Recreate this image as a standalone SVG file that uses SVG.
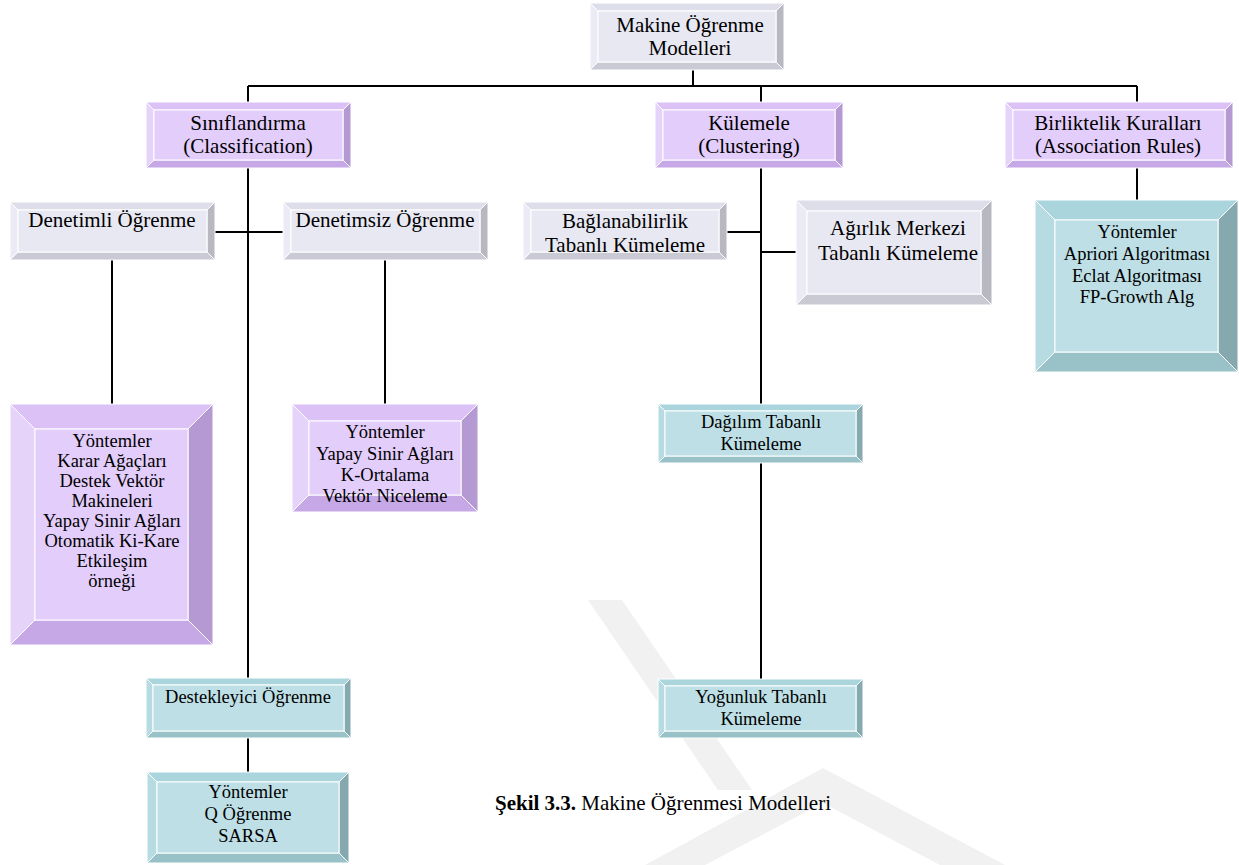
<svg xmlns="http://www.w3.org/2000/svg" width="1239" height="865" viewBox="0 0 1239 865">
  <style>
    text { font-family: "Liberation Serif", "Times New Roman", serif; fill: #000; text-anchor: middle; }
    .big { font-size: 21px; }
    .sm { font-size: 18.5px; }
    .cap { font-size: 21px; text-anchor: start; }
    .node polygon, .node rect { stroke: #ffffff; stroke-width: 1; }
    /* purple bevel */
    .pF { fill: #e3cdfb; } .pT { fill: #dbc1f6; } .pL { fill: #e6d3fa; } .pR { fill: #b499d2; } .pB { fill: #c6a8e6; }
    /* gray bevel */
    .gF { fill: #e8e8f3; } .gT { fill: #dedeea; } .gL { fill: #ebebf5; } .gR { fill: #b8b8c3; } .gB { fill: #cacad5; }
    /* teal bevel */
    .tF { fill: #bddfe5; } .tT { fill: #aad5dd; } .tL { fill: #b6dce2; } .tR { fill: #86a9b0; } .tB { fill: #98c1c8; }
    .wire { stroke: #000; stroke-width: 2; fill: none; }
    .mark { fill: #f1f1f1; stroke: none; }
  </style>

  <!-- faint background watermark -->
  <g id="watermark">
    <polygon class="mark" points="645,865 823,768 1005,865 940,865 823,803 705,865"/>
    <polygon class="mark" points="588,600 622,600 752,790 718,790"/>
  </g>

  <!-- connectors -->
  <g id="connectors" class="wire">
    <path d="M693 70 V86"/>
    <path d="M248 86 H1137"/>
    <path d="M248 86 V102 M761 86 V102 M1137 86 V102"/>
    <path d="M248 168 V678 M248 738 V772"/>
    <path d="M215 232 H283"/>
    <path d="M112 260 V404 M385 260 V404"/>
    <path d="M761 168 V404 M727 232 H761 M761 252 H796 M761 463 V679"/>
    <path d="M1137 168 V200"/>
  </g>

  <!-- root -->
  <g id="n-root" class="node">
    <polygon class="gT" points="590,3 784,3 776,11 598,11"/>
    <polygon class="gL" points="590,3 598,11 598,62 590,70"/>
    <polygon class="gR" points="784,3 784,70 776,62 776,11"/>
    <polygon class="gB" points="590,70 598,62 776,62 784,70"/>
    <rect class="gF" x="598" y="11" width="178" height="51"/>
    <text class="big" x="690" y="32">Makine Öğrenme</text>
    <text class="big" x="690" y="55">Modelleri</text>
  </g>

  <g id="n-classification" class="node">
    <polygon class="pT" points="146,102 351,102 343,110 154,110"/>
    <polygon class="pL" points="146,102 154,110 154,160 146,168"/>
    <polygon class="pR" points="351,102 351,168 343,160 343,110"/>
    <polygon class="pB" points="146,168 154,160 343,160 351,168"/>
    <rect class="pF" x="154" y="110" width="189" height="50"/>
    <text class="big" x="248" y="130">Sınıflandırma</text>
    <text class="big" x="248" y="153">(Classification)</text>
  </g>

  <g id="n-clustering" class="node">
    <polygon class="pT" points="655,102 843,102 835,110 663,110"/>
    <polygon class="pL" points="655,102 663,110 663,160 655,168"/>
    <polygon class="pR" points="843,102 843,168 835,160 835,110"/>
    <polygon class="pB" points="655,168 663,160 835,160 843,168"/>
    <rect class="pF" x="663" y="110" width="172" height="50"/>
    <text class="big" x="749" y="130">Külemele</text>
    <text class="big" x="749" y="153">(Clustering)</text>
  </g>

  <g id="n-association" class="node">
    <polygon class="pT" points="1005,102 1233,102 1225,110 1013,110"/>
    <polygon class="pL" points="1005,102 1013,110 1013,160 1005,168"/>
    <polygon class="pR" points="1233,102 1233,168 1225,160 1225,110"/>
    <polygon class="pB" points="1005,168 1013,160 1225,160 1233,168"/>
    <rect class="pF" x="1013" y="110" width="212" height="50"/>
    <text class="big" x="1118" y="130">Birliktelik Kuralları</text>
    <text class="big" x="1118" y="153">(Association Rules)</text>
  </g>

  <g id="n-supervised" class="node">
    <polygon class="gT" points="10,202 215,202 207,210 18,210"/>
    <polygon class="gL" points="10,202 18,210 18,252 10,260"/>
    <polygon class="gR" points="215,202 215,260 207,252 207,210"/>
    <polygon class="gB" points="10,260 18,252 207,252 215,260"/>
    <rect class="gF" x="18" y="210" width="189" height="42"/>
    <text class="big" x="112" y="227">Denetimli Öğrenme</text>
  </g>

  <g id="n-unsupervised" class="node">
    <polygon class="gT" points="283,202 488,202 480,210 291,210"/>
    <polygon class="gL" points="283,202 291,210 291,252 283,260"/>
    <polygon class="gR" points="488,202 488,260 480,252 480,210"/>
    <polygon class="gB" points="283,260 291,252 480,252 488,260"/>
    <rect class="gF" x="291" y="210" width="189" height="42"/>
    <text class="big" x="385" y="227">Denetimsiz Öğrenme</text>
  </g>

  <g id="n-connectivity" class="node">
    <polygon class="gT" points="523,202 727,202 719,210 531,210"/>
    <polygon class="gL" points="523,202 531,210 531,252 523,260"/>
    <polygon class="gR" points="727,202 727,260 719,252 719,210"/>
    <polygon class="gB" points="523,260 531,252 719,252 727,260"/>
    <rect class="gF" x="531" y="210" width="188" height="42"/>
    <text class="big" x="625" y="228">Bağlanabilirlik</text>
    <text class="big" x="625" y="252">Tabanlı Kümeleme</text>
  </g>

  <g id="n-centroid" class="node">
    <polygon class="gT" points="796,200 992,200 981,211 807,211"/>
    <polygon class="gL" points="796,200 807,211 807,294 796,305"/>
    <polygon class="gR" points="992,200 992,305 981,294 981,211"/>
    <polygon class="gB" points="796,305 807,294 981,294 992,305"/>
    <rect class="gF" x="807" y="211" width="174" height="83"/>
    <text class="big" x="898" y="235">Ağırlık Merkezi</text>
    <text class="big" x="898" y="260">Tabanlı Kümeleme</text>
  </g>

  <g id="n-supervised-methods" class="node">
    <polygon class="pT" points="10,404 213,404 188,429 35,429"/>
    <polygon class="pL" points="10,404 35,429 35,620 10,645"/>
    <polygon class="pR" points="213,404 213,645 188,620 188,429"/>
    <polygon class="pB" points="10,645 35,620 188,620 213,645"/>
    <rect class="pF" x="35" y="429" width="153" height="191"/>
    <text class="sm" x="112" y="447">Yöntemler</text>
    <text class="sm" x="112" y="467">Karar Ağaçları</text>
    <text class="sm" x="112" y="487">Destek Vektör</text>
    <text class="sm" x="112" y="507">Makineleri</text>
    <text class="sm" x="112" y="527">Yapay Sinir Ağları</text>
    <text class="sm" x="112" y="547">Otomatik Ki-Kare</text>
    <text class="sm" x="112" y="567">Etkileşim</text>
    <text class="sm" x="112" y="587">örneği</text>
  </g>

  <g id="n-unsupervised-methods" class="node">
    <polygon class="pT" points="292,404 478,404 461,421 309,421"/>
    <polygon class="pL" points="292,404 309,421 309,495 292,512"/>
    <polygon class="pR" points="478,404 478,512 461,495 461,421"/>
    <polygon class="pB" points="292,512 309,495 461,495 478,512"/>
    <rect class="pF" x="309" y="421" width="152" height="74"/>
    <text class="sm" x="385" y="438">Yöntemler</text>
    <text class="sm" x="385" y="460">Yapay Sinir Ağları</text>
    <text class="sm" x="385" y="481">K-Ortalama</text>
    <text class="sm" x="385" y="502">Vektör Niceleme</text>
  </g>

  <g id="n-association-methods" class="node">
    <polygon class="tT" points="1035,200 1238,200 1218,220 1055,220"/>
    <polygon class="tL" points="1035,200 1055,220 1055,352 1035,372"/>
    <polygon class="tR" points="1238,200 1238,372 1218,352 1218,220"/>
    <polygon class="tB" points="1035,372 1055,352 1218,352 1238,372"/>
    <rect class="tF" x="1055" y="220" width="163" height="132"/>
    <text class="sm" x="1137" y="238">Yöntemler</text>
    <text class="sm" x="1137" y="260">Apriori Algoritması</text>
    <text class="sm" x="1137" y="282">Eclat Algoritması</text>
    <text class="sm" x="1137" y="303">FP-Growth Alg</text>
  </g>

  <g id="n-distribution" class="node">
    <polygon class="tT" points="658,404 863,404 856,411 665,411"/>
    <polygon class="tL" points="658,404 665,411 665,456 658,463"/>
    <polygon class="tR" points="863,404 863,463 856,456 856,411"/>
    <polygon class="tB" points="658,463 665,456 856,456 863,463"/>
    <rect class="tF" x="665" y="411" width="191" height="45"/>
    <text class="sm" x="761" y="428">Dağılım Tabanlı</text>
    <text class="sm" x="761" y="450">Kümeleme</text>
  </g>

  <g id="n-density" class="node">
    <polygon class="tT" points="658,679 863,679 856,686 665,686"/>
    <polygon class="tL" points="658,679 665,686 665,731 658,738"/>
    <polygon class="tR" points="863,679 863,738 856,731 856,686"/>
    <polygon class="tB" points="658,738 665,731 856,731 863,738"/>
    <rect class="tF" x="665" y="686" width="191" height="45"/>
    <text class="sm" x="761" y="703">Yoğunluk Tabanlı</text>
    <text class="sm" x="761" y="725">Kümeleme</text>
  </g>

  <g id="n-reinforcement" class="node">
    <polygon class="tT" points="146,678 351,678 344,685 153,685"/>
    <polygon class="tL" points="146,678 153,685 153,731 146,738"/>
    <polygon class="tR" points="351,678 351,738 344,731 344,685"/>
    <polygon class="tB" points="146,738 153,731 344,731 351,738"/>
    <rect class="tF" x="153" y="685" width="191" height="46"/>
    <text class="sm" x="248" y="703">Destekleyici Öğrenme</text>
  </g>

  <g id="n-reinforcement-methods" class="node">
    <polygon class="tT" points="147,772 349,772 339,782 157,782"/>
    <polygon class="tL" points="147,772 157,782 157,853 147,863"/>
    <polygon class="tR" points="349,772 349,863 339,853 339,782"/>
    <polygon class="tB" points="147,863 157,853 339,853 349,863"/>
    <rect class="tF" x="157" y="782" width="182" height="71"/>
    <text class="sm" x="248" y="798">Yöntemler</text>
    <text class="sm" x="248" y="820">Q Öğrenme</text>
    <text class="sm" x="248" y="842">SARSA</text>
  </g>

  <!-- figure caption -->
  <text class="cap" x="495" y="810"><tspan font-weight="bold">Şekil 3.3.</tspan> Makine Öğrenmesi Modelleri</text>
</svg>
